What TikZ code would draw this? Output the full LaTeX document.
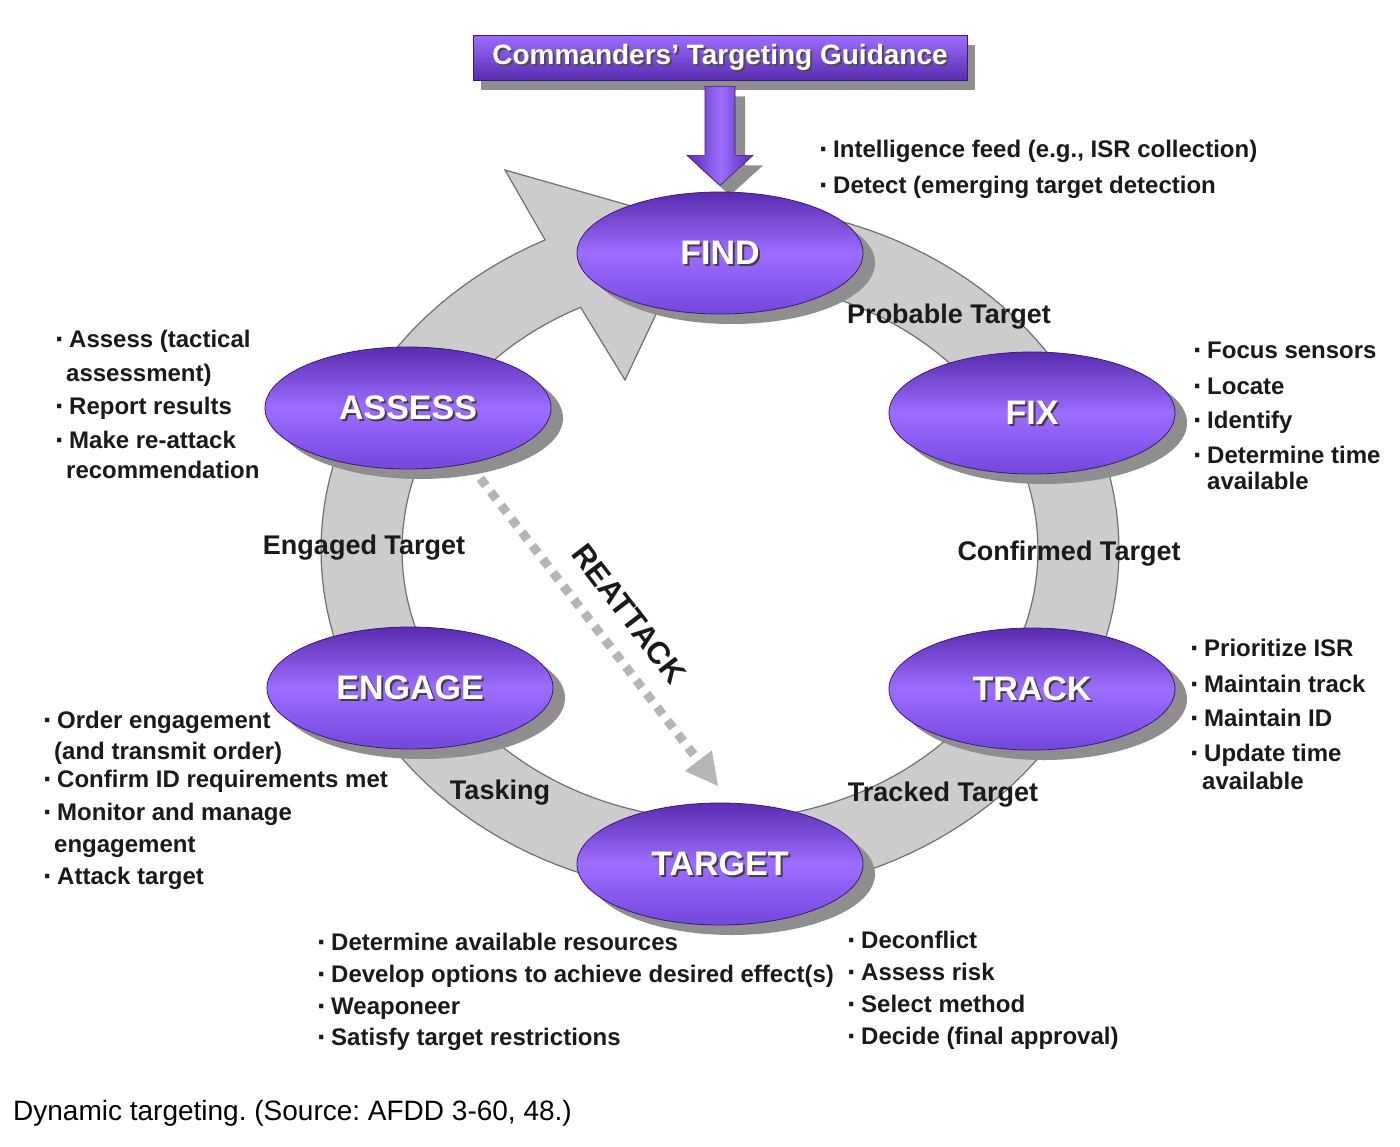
\documentclass[tikz,border=0pt]{standalone}
\usepackage{fontspec}
\setmainfont{Liberation Sans}
\usetikzlibrary{shapes.geometric,calc}
\frenchspacing
\definecolor{ringfill}{HTML}{CCCCCC}
\definecolor{ringedge}{HTML}{707070}
\definecolor{pdark}{HTML}{5A2CB0}
\definecolor{pmid}{HTML}{7447DD}
\definecolor{plight}{HTML}{9D6DFF}
\definecolor{pedge}{HTML}{3A1A78}
\definecolor{shgray}{HTML}{8E8E8E}
\definecolor{dotgray}{HTML}{B5B5B5}
\definecolor{txt}{HTML}{1A1A1A}
\newcommand\bul{\makebox[14pt][l]{\raisebox{-2pt}{\scalebox{1.25}{·}}}}
\newcommand\blist[1]{\begin{tabular}[t]{@{}l@{}}#1\end{tabular}}
\tikzset{
  phase/.style={ellipse, minimum width=286pt, minimum height=122pt, inner sep=0pt,
    top color=pdark, bottom color=pmid, middle color=plight, draw=pedge, line width=0.8pt},
  phsh/.style={ellipse, minimum width=286pt, minimum height=122pt, inner sep=0pt, fill=shgray},
  ptext/.style={text=white, inner sep=0pt, font=\fontsize{34}{34}\selectfont\bfseries},
  ptsh/.style={text=black!75, inner sep=0pt, font=\fontsize{34}{34}\selectfont\bfseries},
  ringlbl/.style={text=txt, inner sep=0pt, font=\fontsize{27}{27}\selectfont\bfseries},
  blk/.style={anchor=base west, inner sep=0pt, text=txt, font=\fontsize{24}{34}\selectfont\bfseries},
  titlebox/.style={rectangle, minimum width=494pt, minimum height=45pt, inner sep=0pt,
    top color=plight, bottom color=pdark, draw=pedge, line width=0.8pt},
  ttext/.style={text=white, inner sep=0pt, font=\fontsize{28}{28}\selectfont\bfseries},
  ttsh/.style={text=black!70, inner sep=0pt, font=\fontsize{28}{28}\selectfont\bfseries},
}
\begin{document}
\begin{tikzpicture}[x=1pt,y=-1pt]
\useasboundingbox[fill=white] (0,0) rectangle (1400,1146);

% ---- gray cycle ring with arrowhead into FIND
\filldraw[fill=ringfill, draw=ringedge, line width=1.2pt]
  plot[domain=275:604, samples=140, variable=\t] ({720+399*cos(\t)},{550+345*sin(\t)})
  -- (505,170) -- (698,225) -- (625,380)
  -- plot[domain=275:604, samples=140, variable=\t] ({720+318*cos(879-\t)},{550+270*sin(879-\t)})
  -- cycle;

% ---- REATTACK dotted arrow
\coordinate (rs) at (470,465);
\coordinate (rb) at (698.4,760.7);
\coordinate (rt) at (718,786);
\draw[dotgray, line width=9pt, dash pattern=on 9pt off 8pt] (rs) -- (rb);
\fill[dotgray] (rt) -- (685,771) -- (711.8,750.3) -- cycle;

% ---- title box
\fill[shgray] (481,45) rectangle (975,90);
\node[titlebox] (guide) at (720,57.5) {};
\node[ttsh] (guidesh) at ($(guide.center)+(2,2)$) {Commanders' Targeting Guidance};
\node[ttext] (guidetxt) at (guide.center) {Commanders' Targeting Guidance};

% ---- guidance arrow into FIND
\begin{scope}[shift={($(guide.south)+(10,10)$)}]
  \fill[shgray] (-15,6) -- (15,6) -- (15,75) -- (33,75) -- (0,105) -- (-33,75) -- (-15,75) -- cycle;
\end{scope}
\begin{scope}[shift={(guide.south)}]
  \shadedraw[left color=pdark, right color=pdark, middle color=plight, draw=pedge, line width=0.6pt]
    (-15,6) -- (15,6) -- (15,75) -- (33,75) -- (0,105) -- (-33,75) -- (-15,75) -- cycle;
\end{scope}

% ---- phase ellipses
\node[phsh] (findsh)   at (732,263) {};
\node[phsh] (assesssh) at (420,418) {};
\node[phsh] (fixsh)    at (1044,423) {};
\node[phsh] (engagesh) at (422,698) {};
\node[phsh] (tracksh)  at (1044,699) {};
\node[phsh] (targetsh) at (732,874) {};

\node[phase] (find)   at (720,253) {};
\node[phase] (assess) at (408,408) {};
\node[phase] (fix)    at (1032,413) {};
\node[phase] (engage) at (410,688) {};
\node[phase] (track)  at (1032,689) {};
\node[phase] (target) at (720,864) {};

\foreach \n/\l in {find/FIND, assess/ASSESS, fix/FIX, engage/ENGAGE, track/TRACK, target/TARGET}{
  \node[ptsh] (\n ts) at ($(\n.center)+(2,2)$) {\l};
  \node[ptext] (\n tx) at (\n.center) {\l};
}

% ---- labels on the ring
\node[ringlbl] (lprob)  at (949,317) {Probable Target};
\node[ringlbl] (lconf)  at (1069,554) {Confirmed Target};
\node[ringlbl] (ltrack) at (943,795) {Tracked Target};
\node[ringlbl] (ltask)  at (500,793) {Tasking};
\node[ringlbl] (leng)   at (364,548) {Engaged Target};
\node[text=txt, inner sep=0pt, rotate=-52.5, font=\fontsize{31}{31}\selectfont\bfseries] (lreat) at (629,614) {REATTACK};

% ---- bullet lists
\node[blk] (findb) at (819,157) {\blist{\bul Intelligence feed (e.g., ISR collection)\\[2pt]
  \bul Detect (emerging target detection}};
\node[blk] (fixb) at (1193,358.5) {\blist{\bul Focus sensors\\[2pt]
  \bul Locate\\
  \bul Identify\\[1pt]
  \bul Determine time\\[-8pt]
  \hspace*{14pt}available}};
\node[blk] (trackb) at (1190,656.5) {\blist{\bul Prioritize ISR\\[2pt]
  \bul Maintain track\\
  \bul Maintain ID\\[1pt]
  \bul Update time\\[-6pt]
  \hspace*{12pt}available}};
\node[blk] (assessb) at (55,347.5) {\blist{\bul Assess (tactical\\
  \hspace*{11pt}assessment)\\[-1pt]
  \bul Report results\\
  \bul Make re-attack\\[-4pt]
  \hspace*{11pt}recommendation}};
\node[blk] (engageb) at (43,728.5) {\blist{\bul Order engagement\\[-3pt]
  \hspace*{11pt}(and transmit order)\\[-6pt]
  \bul Confirm ID requirements met\\[-1pt]
  \bul Monitor and manage\\[-2pt]
  \hspace*{11pt}engagement\\[-2pt]
  \bul Attack target}};
\node[blk] (targetlb) at (317,950.5) {\blist{\bul Determine available resources\\[-2pt]
  \bul Develop options to achieve desired effect(s)\\[-2pt]
  \bul Weaponeer\\[-3pt]
  \bul Satisfy target restrictions}};
\node[blk] (targetrb) at (847,948.5) {\blist{\bul Deconflict\\[-2pt]
  \bul Assess risk\\[-2pt]
  \bul Select method\\[-2pt]
  \bul Decide (final approval)}};

% ---- caption
\node[anchor=base west, inner sep=0pt, text=black, font=\fontsize{28}{28}\selectfont] (cap) at (13,1120)
  {Dynamic targeting. (Source: AFDD 3-60, 48.)};
\end{tikzpicture}
\end{document}
